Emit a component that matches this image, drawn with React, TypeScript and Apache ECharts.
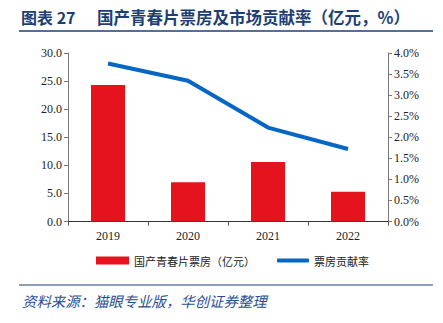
import React, { useEffect, useRef } from "react";
import * as echarts from "echarts";

const categories = ["2019", "2020", "2021", "2022"];
const boxOffice = [24.3, 7.0, 10.6, 5.3];
const contribution = [3.75, 3.34, 2.23, 1.72];
const leftTicks = [0, 5, 10, 15, 20, 25, 30];
const rightTicks = [0, 0.5, 1, 1.5, 2, 2.5, 3, 3.5, 4];

const titleLabel = "图表 27";
const titleText = "国产青春片票房及市场贡献率（亿元，%）";
const sourceText = "资料来源：猫眼专业版，华创证券整理";
const barName = "国产青春片票房（亿元）";
const lineName = "票房贡献率";

const RED = "#E5131D";
const BLUE = "#0566C4";
const NAVY = "#1D3F73";
const SERIF = "Liberation Serif";
const CJK = "Noto Sans CJK SC";

export default function App() {
  const ref = useRef<HTMLDivElement>(null);
  useEffect(() => {
    const chart = echarts.init(ref.current!, null, { renderer: "svg" });
    chart.setOption({
      animation: false,
      backgroundColor: "#fff",
      grid: { left: 68, right: 55, top: 53, bottom: 101.5 },
      legend: [
        {
          data: [{ name: barName, icon: "rect" }],
          left: 91,
          top: 250,
          itemWidth: 33,
          itemHeight: 8,
          itemGap: 4,
          textStyle: { fontFamily: CJK, fontSize: 11, color: "#222" },
        },
        {
          data: [{ name: lineName, icon: "roundRect" }],
          left: 272,
          top: 250,
          itemWidth: 32,
          itemHeight: 4,
          itemGap: 4,
          textStyle: { fontFamily: CJK, fontSize: 11, color: "#222" },
        },
      ],
      xAxis: {
        type: "category",
        data: categories,
        axisLine: { lineStyle: { color: "#333", width: 1 } },
        axisTick: { show: true, alignWithLabel: false, length: 4, lineStyle: { color: "#555" } },
        axisLabel: { fontFamily: SERIF, fontSize: 12, color: "#222", margin: 8 },
      },
      yAxis: [
        {
          type: "value",
          min: leftTicks[0],
          max: leftTicks[leftTicks.length - 1],
          interval: 5,
          axisLine: { show: true, lineStyle: { color: "#777" } },
          axisTick: { show: true, length: 4, lineStyle: { color: "#777" } },
          splitLine: { show: false },
          axisLabel: {
            fontFamily: SERIF,
            fontSize: 12,
            color: "#222",
            margin: 6,
            formatter: (v: number) => v.toFixed(1),
          },
        },
        {
          type: "value",
          min: rightTicks[0],
          max: rightTicks[rightTicks.length - 1],
          interval: 0.5,
          position: "right",
          axisLine: { show: true, lineStyle: { color: "#777" } },
          axisTick: { show: true, length: 4, lineStyle: { color: "#777" } },
          splitLine: { show: false },
          axisLabel: {
            fontFamily: SERIF,
            fontSize: 12,
            color: "#222",
            margin: 6,
            formatter: (v: number) => v.toFixed(1) + "%",
          },
        },
      ],
      series: [
        {
          name: barName,
          type: "bar",
          data: boxOffice,
          barWidth: 34,
          itemStyle: { color: RED },
          yAxisIndex: 0,
        },
        {
          name: lineName,
          type: "line",
          data: contribution,
          yAxisIndex: 1,
          symbol: "none",
          lineStyle: { color: BLUE, width: 4 },
          itemStyle: { color: BLUE },
        },
      ],
      graphic: [
        {
          type: "text",
          left: 21,
          top: 9,
          style: {
            text: titleLabel,
            font: `bold 16px ${CJK}`,
            fill: NAVY,
          },
        },
        {
          type: "text",
          left: 97,
          top: 8.5,
          style: {
            text: titleText,
            font: `bold 16.5px ${CJK}`,
            fill: NAVY,
          },
        },
        {
          type: "line",
          shape: { x1: 19, y1: 31, x2: 433, y2: 31 },
          style: { stroke: NAVY, lineWidth: 1.5 },
        },
        {
          type: "line",
          shape: { x1: 19, y1: 285, x2: 433, y2: 285 },
          style: { stroke: NAVY, lineWidth: 1.2 },
        },
        {
          type: "text",
          left: 22,
          top: 293.5,
          style: {
            text: sourceText,
            font: `italic 14.4px ${CJK}`,
            fill: "#2A4F8F",
          },
        },
      ],
    });
    return () => chart.dispose();
  }, []);
  return (
    <div
      ref={ref}
      style={{ position: "absolute", left: 0, top: 0, width: 443, height: 323 }}
    />
  );
}
